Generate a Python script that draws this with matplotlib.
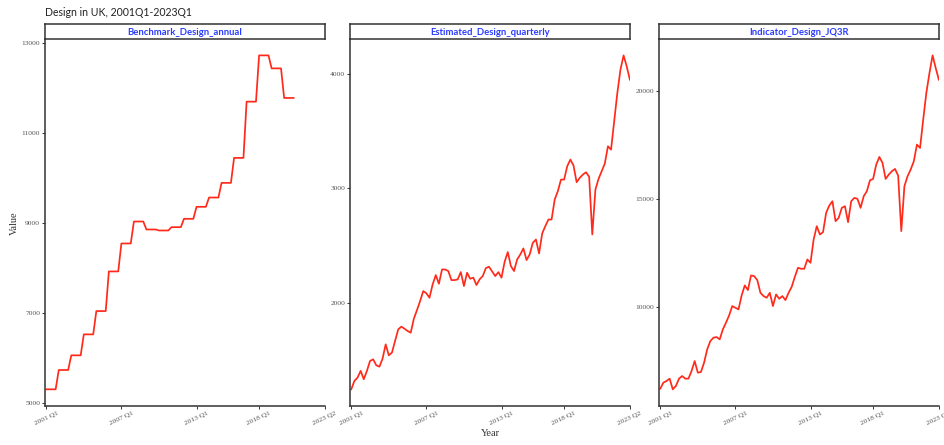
import matplotlib.pyplot as plt
import numpy as np

# Series values (2001 Q1 onwards)
benchmark_annual = [5314, 5742, 6067, 6532, 7049, 7928, 8548, 9035, 8858, 8836,
                    8910, 9095, 9361, 9567, 9892, 10446, 11693, 12719, 12431, 11775]

estimated_quarterly = [
    1243, 1316, 1345, 1404, 1331, 1404, 1491, 1505, 1453, 1441,
    1511, 1636, 1540, 1564, 1666, 1767, 1791, 1773, 1753, 1738,
    1861, 1936, 2015, 2102, 2082, 2044, 2160, 2242, 2166, 2291,
    2291, 2277, 2198, 2198, 2204, 2268, 2146, 2262, 2210, 2219,
    2155, 2204, 2233, 2303, 2315, 2274, 2233, 2268, 2219, 2358,
    2443, 2321, 2277, 2379, 2422, 2475, 2373, 2422, 2524, 2553,
    2431, 2606, 2670, 2728, 2728, 2903, 2976, 3077, 3077, 3194,
    3252, 3200, 3054, 3092, 3121, 3141, 3101, 2597, 2990, 3083,
    3150, 3217, 3368, 3339, 3587, 3834, 4038, 4163, 4067, 3951,
]

indicator_jq3r = [
    6194, 6472, 6550, 6658, 6163, 6318, 6658, 6781, 6658, 6658,
    7013, 7476, 6936, 6967, 7400, 8018, 8405, 8559, 8590, 8482,
    8946, 9255, 9595, 10028, 9951, 9873, 10523, 10987, 10770, 11450,
    11420, 11234, 10646, 10492, 10415, 10646, 10028, 10569, 10368, 10492,
    10306, 10646, 10925, 11388, 11806, 11760, 11760, 12193, 12038, 13120,
    13738, 13352, 13460, 14357, 14697, 14898, 13970, 14125, 14589, 14666,
    13924, 14898, 15053, 15006, 14589, 15130, 15362, 15872, 15934, 16599,
    16954, 16676, 15934, 16135, 16289, 16398, 16088, 13507, 15594, 16057,
    16367, 16753, 17526, 17372, 18686, 19922, 20850, 21669, 21082, 20541,
]

panel_titles = ["Benchmark_Design_annual", "Estimated_Design_quarterly", "Indicator_Design_JQ3R"]
x_tick_labels = ["2001 Q1", "2007 Q1", "2013 Q1", "2018 Q1", "2023 Q2"]
y_ticks = [[5000, 7000, 9000, 11000, 13000], [2000, 3000, 4000], [10000, 15000, 20000]]


def quarter_index(label):
    year, q = label.split(" Q")
    return (int(year) - 2001) * 4 + int(q) - 1


series = [
    np.repeat(benchmark_annual, 4),
    np.array(estimated_quarterly),
    np.array(indicator_jq3r),
]

W, H = 944, 445
fig = plt.figure(figsize=(W / 100, H / 100), dpi=100)

lefts = [45, 350, 659]
width = 280
top, bottom, strip_top = 38.7, 406, 24
axis_col = "#333333"
line_col = "#ff2a1a"
serif = ["Liberation Serif", "DejaVu Serif"]

x_ticks = [quarter_index(s) for s in x_tick_labels]

for left, y, title, yt in zip(lefts, series, panel_titles, y_ticks):
    ax = fig.add_axes([left / W, 1 - bottom / H, width / W, (bottom - top) / H])
    x = np.arange(len(y))
    ax.plot(x, y, color=line_col, lw=1.25)

    lo, hi = y.min(), y.max()
    pad = 0.05 * (hi - lo)
    ax.set_ylim(lo - pad, hi + pad)
    ax.set_xlim(-0.4, 89.05)

    ax.set_yticks(yt)
    ax.set_yticklabels([str(v) for v in yt], fontsize=5.4, color="#555555", family=serif)
    ax.set_xticks(x_ticks)
    ax.set_xticklabels(x_tick_labels, fontsize=5.4, color="#555555", family=serif,
                       rotation=25, ha="center")
    ax.tick_params(length=2, width=0.7, color=axis_col, pad=1.5)

    for side in ["top", "right"]:
        ax.spines[side].set_visible(False)
    for side in ["left", "bottom"]:
        ax.spines[side].set_color(axis_col)
        ax.spines[side].set_linewidth(1.1)

    # facet strip
    sax = fig.add_axes([left / W, 1 - top / H, width / W, (top - strip_top) / H])
    sax.set_xticks([])
    sax.set_yticks([])
    for sp in sax.spines.values():
        sp.set_color(axis_col)
        sp.set_linewidth(1.1)
    sax.text(0.5, 0.45, title, ha="center", va="center", fontsize=6.8,
             fontweight="bold", color="#2a3cff", family="Lato", transform=sax.transAxes)

fig.text(45 / W, 1 - 12 / H, "Design in UK, 2001Q1-2023Q1", ha="left", va="center",
         fontsize=7.6, color="#222222", family="Lato")
fig.text(14 / W, 1 - 223 / H, "Value", rotation=90, ha="center", va="center",
         fontsize=7.5, color="#333333", family=serif)
fig.text(490 / W, 1 - 434 / H, "Year", ha="center", va="center",
         fontsize=7.5, color="#333333", family=serif)

fig.savefig("out.png", dpi=100)
